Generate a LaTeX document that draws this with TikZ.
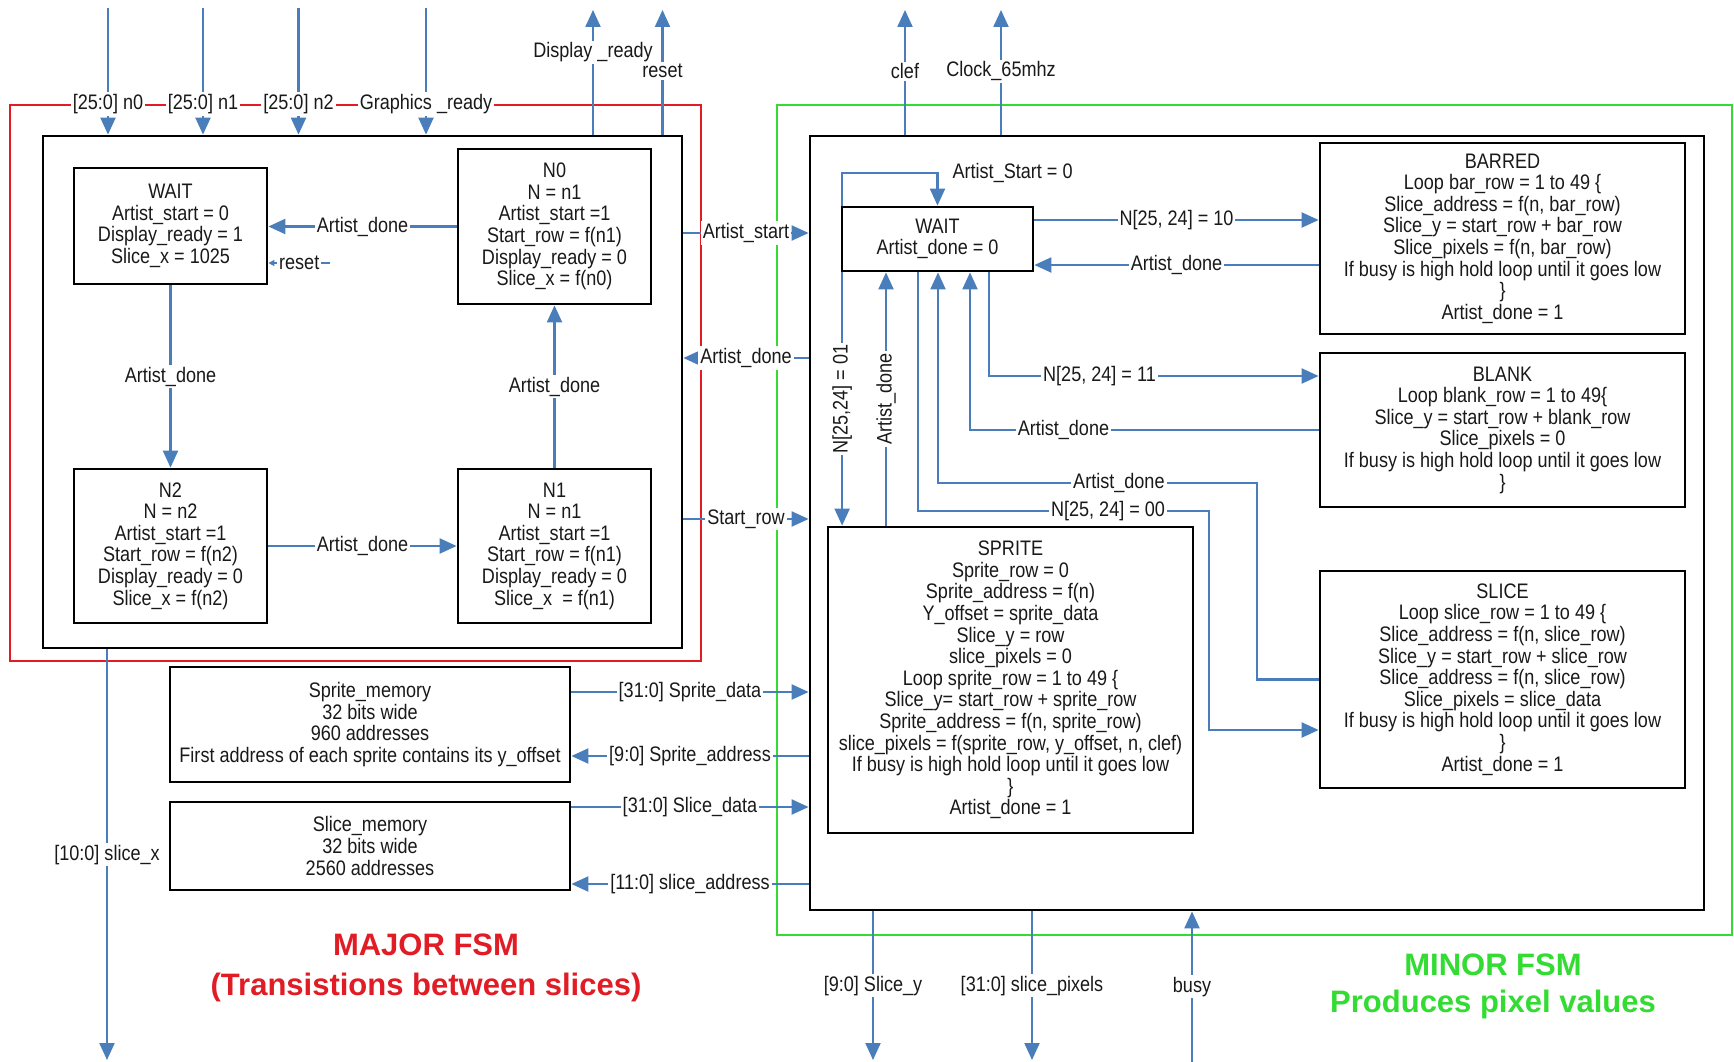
\documentclass[tikz,border=0pt]{standalone}
\usepackage{fontspec}
\setmainfont{Liberation Sans}[FakeStretch=0.86]
\newfontfamily\titlefont{Liberation Sans}
\usetikzlibrary{arrows.meta}
\definecolor{cblue}{RGB}{74,126,187}
\definecolor{cred}{RGB}{225,28,36}
\definecolor{cgreen}{RGB}{50,220,50}
\tikzset{
  txt/.style={font=\fontsize{21}{21.6}\selectfont, text=black!90},
  box/.style={txt, draw=black, line width=2.8pt, align=center, inner sep=0pt, fill=white},
  arr/.style={draw=cblue, line width=2.2pt, -{Triangle[length=17pt,width=15pt]}},
  arrsmall/.style={draw=cblue, line width=1.5pt, -{Triangle[length=6pt,width=6pt]}},
  lbl/.style={txt, fill=white, inner sep=2pt},
  ttl/.style={font=\titlefont\bfseries\fontsize{31}{40}\selectfont, align=center},
}
\begin{document}
\begin{tikzpicture}[x=1pt,y=-1pt]
\useasboundingbox (0,0) rectangle (1734,1062);
\fill[white] (0,0) rectangle (1734,1062);

% frames
\draw[cred, line width=2.5pt] (10,105) rectangle (701,661);
\draw[cgreen, line width=2.5pt] (777,105) rectangle (1732,935);
\node[box, minimum width=639pt, minimum height=512pt] (majorin) at (362.5,392) {};
\node[box, minimum width=894pt, minimum height=774pt] (minorin) at (1257,523) {};

% major states
\node[box, minimum width=193pt, minimum height=116pt] (sWait) at (170.5,226) {WAIT\\Artist\_start = 0\\Display\_ready = 1\\Slice\_x = 1025};
\node[box, minimum width=193pt, minimum height=155pt] (sN0) at (554.5,226.5) {N0\\N = n1\\Artist\_start =1\\Start\_row = f(n1)\\Display\_ready = 0\\Slice\_x = f(n0)};
\node[box, minimum width=193pt, minimum height=154pt] (sN2) at (170.5,546) {N2\\N = n2\\Artist\_start =1\\Start\_row = f(n2)\\Display\_ready = 0\\Slice\_x = f(n2)};
\node[box, minimum width=193pt, minimum height=154pt] (sN1) at (554.5,546) {N1\\N = n1\\Artist\_start =1\\Start\_row = f(n1)\\Display\_ready = 0\\Slice\_x ~= f(n1)};

% memories
\node[box, minimum width=400pt, minimum height=115pt] (smem) at (370,724.5) {Sprite\_memory\\32 bits wide\\960 addresses\\First address of each sprite contains its y\_offset};
\node[box, minimum width=400pt, minimum height=88pt] (slmem) at (370,846) {Slice\_memory\\32 bits wide\\2560 addresses};

% minor states
\node[box, minimum width=191pt, minimum height=64pt] (mw) at (937.5,239) {WAIT\\Artist\_done = 0};
\node[box, minimum width=365pt, minimum height=191pt] (bar) at (1502.5,238.5) {BARRED\\Loop bar\_row = 1 to 49 \{\\Slice\_address = f(n, bar\_row)\\Slice\_y = start\_row + bar\_row\\Slice\_pixels = f(n, bar\_row)\\If busy is high hold loop until it goes low\\\}\\Artist\_done = 1};
\node[box, minimum width=365pt, minimum height=154pt] (blank) at (1502.5,430) {BLANK\\Loop blank\_row = 1 to 49\{\\Slice\_y = start\_row + blank\_row\\Slice\_pixels = 0\\If busy is high hold loop until it goes low\\\}};
\node[box, minimum width=365pt, minimum height=217pt] (slice) at (1502.5,679.5) {SLICE\\Loop slice\_row = 1 to 49 \{\\Slice\_address = f(n, slice\_row)\\Slice\_y = start\_row + slice\_row\\Slice\_address = f(n, slice\_row)\\Slice\_pixels = slice\_data\\If busy is high hold loop until it goes low\\\}\\Artist\_done = 1};
\node[box, minimum width=365pt, minimum height=306pt] (spr) at (1010.5,680) {SPRITE\\Sprite\_row = 0\\Sprite\_address = f(n)\\Y\_offset = sprite\_data\\Slice\_y = row\\slice\_pixels = 0\\Loop sprite\_row = 1 to 49 \{\\Slice\_y= start\_row + sprite\_row\\Sprite\_address = f(n, sprite\_row)\\slice\_pixels = f(sprite\_row, y\_offset, n, clef)\\If busy is high hold loop until it goes low\\\}\\Artist\_done = 1};

% guide coordinates
\coordinate (gIn0) at (108,8);
\coordinate (gIn1) at (203,8);
\coordinate (gIn2) at (298.5,8);
\coordinate (gInG) at (426,8);
\coordinate (gDR) at (593,10);
\coordinate (gRS) at (662.5,10);
\coordinate (gClef) at (905,10);
\coordinate (gClk) at (1001,10);
\coordinate (gRst) at (330,263);
\coordinate (gAS) at (0,233);
\coordinate (gADm) at (0,358);
\coordinate (gSR) at (0,519);
\coordinate (gSD) at (0,692);
\coordinate (gSA) at (0,756);
\coordinate (gLD) at (0,807);
\coordinate (gLA) at (0,884);
\coordinate (gSX) at (107,1060);
\coordinate (gSY) at (873,1060);
\coordinate (gSP) at (1032,1060);
\coordinate (gBusy) at (1192,1062);
\coordinate (gA) at (0,220);
\coordinate (gB) at (0,265);
\coordinate (p11) at (988.6,376);
\coordinate (pB) at (970,0);
\coordinate (pS1) at (1257,483);
\coordinate (pS2) at (938,483);
\coordinate (p00a) at (918,511);
\coordinate (p00b) at (1209,511);
\coordinate (p00c) at (0,730);
\coordinate (pAD1) at (886,0);
\coordinate (p01) at ([xshift=1.5pt]mw.south west);
\coordinate (loopL) at ([xshift=1.5pt]mw.north west);
\coordinate (loopTR) at ([yshift=33pt]mw.north);

% top signals
\draw[arr] (gIn0) -- node[lbl, pos=0.758]{[25:0] n0} (gIn0 |- majorin.north);
\draw[arr] (gIn1) -- node[lbl, pos=0.758]{[25:0] n1} (gIn1 |- majorin.north);
\draw[arr] (gIn2) -- node[lbl, pos=0.758]{[25:0] n2} (gIn2 |- majorin.north);
\draw[arr] (gInG) -- node[lbl, pos=0.758]{Graphics \_ready} (gInG |- majorin.north);
\draw[arr] (majorin.north -| gDR) -- node[lbl, pos=0.659]{Display \_ready} (gDR);
\draw[arr] (majorin.north -| gRS) -- node[lbl, pos=0.508]{reset} (gRS);
\draw[arr] (minorin.north -| gClef) -- node[lbl, pos=0.508]{clef} (gClef);
\draw[arr] (minorin.north -| gClk) -- node[lbl, pos=0.508]{Clock\_65mhz} (gClk);

% major transitions
\draw[arr] (sN0.west) -- node[lbl]{Artist\_done} (sN0.west -| sWait.east);
\draw[arrsmall] (gRst) -- node[lbl]{reset} (gRst -| sWait.east);
\draw[arr] (sWait.south) -- node[lbl]{Artist\_done} (sWait.south |- sN2.north);
\draw[arr] (sN2.east) -- node[lbl]{Artist\_done} (sN2.east -| sN1.west);
\draw[arr] (sN1.north) -- node[lbl]{Artist\_done} (sN0.south);

% between FSMs
\draw[arr] (majorin.east |- gAS) -- node[lbl]{Artist\_start} (minorin.west |- gAS);
\draw[arr] (minorin.west |- gADm) -- node[lbl]{Artist\_done} (majorin.east |- gADm);
\draw[arr] (majorin.east |- gSR) -- node[lbl]{Start\_row} (minorin.west |- gSR);
\draw[arr] (smem.east |- gSD) -- node[lbl]{[31:0] Sprite\_data} (minorin.west |- gSD);
\draw[arr] (minorin.west |- gSA) -- node[lbl]{[9:0] Sprite\_address} (smem.east |- gSA);
\draw[arr] (slmem.east |- gLD) -- node[lbl]{[31:0] Slice\_data} (minorin.west |- gLD);
\draw[arr] (minorin.west |- gLA) -- node[lbl]{[11:0] slice\_address} (slmem.east |- gLA);

% bottom signals
\draw[arr] (majorin.south -| gSX) -- node[lbl]{[10:0] slice\_x} (gSX);
\draw[arr] (minorin.south -| gSY) -- node[lbl]{[9:0] Slice\_y} (gSY);
\draw[arr] (minorin.south -| gSP) -- node[lbl]{[31:0] slice\_pixels} (gSP);
\draw[arr] (gBusy) -- node[lbl]{busy} (minorin.south -| gBusy);

% minor transitions
\draw[arr] (loopL) |- (loopTR) node[lbl, anchor=west, xshift=12pt]{Artist\_Start = 0} -- (mw.north);
\draw[arr] (mw.east |- gA) -- node[lbl]{N[25, 24] = 10} (bar.west |- gA);
\draw[arr] (bar.west |- gB) -- node[lbl]{Artist\_done} (mw.east |- gB);
\draw[arr] (p01) -- node[lbl, rotate=90]{N[25,24] = 01} (p01 |- spr.north);
\draw[arr] (spr.north -| pAD1) -- node[lbl, rotate=90]{Artist\_done} (mw.south -| pAD1);
\draw[arr] (mw.south -| p11) |- node[lbl, pos=0.668]{N[25, 24] = 11} (blank.west |- p11);
\draw[arr] (blank.west) -| node[lbl, pos=0.366]{Artist\_done} (mw.south -| pB);
\draw[arr] (slice.west) -| (pS1) -- node[lbl, pos=0.433]{Artist\_done} (pS2) -- (mw.south -| pS2);
\draw[arr] (mw.south -| p00a) -- (p00a) -- node[lbl, pos=0.653]{N[25, 24] = 00} (p00b) |- (slice.west |- p00c);

% titles
\node[ttl, text=cred] (tmajor) at (426,968) {MAJOR FSM\\(Transistions between slices)};
\node[ttl, text=cgreen, font=\titlefont\bfseries\fontsize{31}{37}\selectfont] (tminor) at (1493,986) {MINOR FSM\\Produces pixel values};
\end{tikzpicture}
\end{document}
